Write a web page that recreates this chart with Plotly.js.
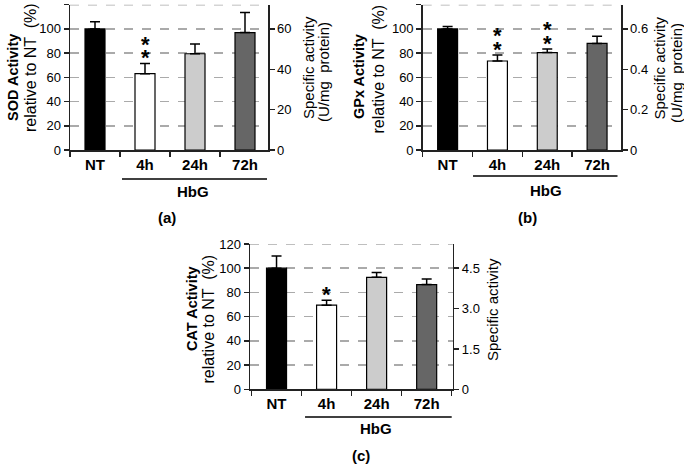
<!DOCTYPE html>
<html>
<head>
<meta charset="utf-8">
<script src="https://cdn.plot.ly/plotly-3.0.1.min.js"></script>
<style>html,body{margin:0;padding:0;background:#fff;}#chart{width:684px;height:465px;}</style>
</head>
<body>
<div id="chart"></div>
<script>
// ---- data ----
const categories = ['NT', '4h', '24h', '72h'];
const barColors = ['#000000', '#ffffff', '#cccccc', '#666666'];

const sodValues = [100, 63, 79.5, 97];
const sodErrors = [6, 8.5, 8, 16.5];
const sodStars = [0, 2, 0, 0];

const gpxValues = [100, 73.5, 80.5, 88];
const gpxErrors = [2, 5, 3, 6];
const gpxStars = [0, 2, 2, 0];

const catValues = [100, 69.5, 92.5, 86.5];
const catErrors = [10, 4, 4, 4.5];
const catStars = [0, 1, 0, 0];

const leftTicks = [0, 20, 40, 60, 80, 100, 120];
const sodRightTicks = [0, 20, 40, 60];
const gpxRightTicks = [0, 0.2, 0.4, 0.6];
const catRightTicks = [0, 1.5, 3.0, 4.5];
const catRightTickText = ['0', '1.5', '3.0', '4.5'];

const FONT = 'Liberation Sans, Arial, sans-serif';
const W = 684, H = 465;
const px = v => v / W, py = v => 1 - v / H;

function barTrace(vals, errs, xa, ya) {
  return {
    type: 'bar', x: categories, y: vals, xaxis: xa, yaxis: ya,
    width: 0.4,
    marker: {color: barColors, line: {color: '#000', width: 1.2}},
    error_y: {type: 'data', symmetric: false, array: errs, arrayminus: errs.map(() => 0),
              color: '#000', thickness: 1.5, width: 5},
    hoverinfo: 'skip', showlegend: false
  };
}

const data = [
  barTrace(sodValues, sodErrors, 'x', 'y'),
  barTrace(gpxValues, gpxErrors, 'x2', 'y3'),
  barTrace(catValues, catErrors, 'x3', 'y5'),
  {type: 'scatter', x: categories, y: [null, null, null, null], xaxis: 'x', yaxis: 'y2', showlegend: false, hoverinfo: 'skip'},
  {type: 'scatter', x: categories, y: [null, null, null, null], xaxis: 'x2', yaxis: 'y4', showlegend: false, hoverinfo: 'skip'},
  {type: 'scatter', x: categories, y: [null, null, null, null], xaxis: 'x3', yaxis: 'y6', showlegend: false, hoverinfo: 'skip'}
];

function xAxis(domain, range, anchor) {
  return {
    domain: domain, range: range, anchor: anchor, type: 'category',
    showline: true, linecolor: '#222', linewidth: 1.5,
    ticks: 'outside', ticklen: 5, tickcolor: '#222', tickwidth: 1.5,
    tickson: 'boundaries', showgrid: false, zeroline: false, automargin: false,
    tickfont: {family: FONT, size: 15, color: '#000', weight: 'bold'},
    fixedrange: true
  };
}
function leftAxis(domain, anchor) {
  return {
    domain: domain, anchor: anchor, range: [0, 120], tickvals: leftTicks,
    showline: true, linecolor: '#222', linewidth: 1.5,
    ticks: 'outside', ticklen: 5, tickcolor: '#222', tickwidth: 1.5,
    showgrid: true, gridcolor: '#aaaaaa', gridwidth: 1.5, griddash: 'dash',
    zeroline: false, automargin: false,
    tickfont: {family: FONT, size: 13, color: '#000'},
    fixedrange: true
  };
}
function rightAxis(overlay, anchor, range, ticks, ticktext) {
  const ax = {
    overlaying: overlay, anchor: anchor, side: 'right', range: range, tickvals: ticks,
    showline: true, linecolor: '#222', linewidth: 1.5,
    ticks: 'outside', ticklen: 5, tickcolor: '#222', tickwidth: 1.5,
    showgrid: false, zeroline: false, automargin: false,
    tickfont: {family: FONT, size: 13, color: '#000'},
    fixedrange: true
  };
  if (ticktext) ax.ticktext = ticktext;
  return ax;
}

const domA = [px(70), px(268)], domB = [px(422.7), px(621)], domC = [px(250), px(452.7)];
const yTop = [py(150), py(4.7)], yBot = [py(389.3), py(244)];

function starAnns(stars, vals, errs, xref, yref) {
  const out = [];
  stars.forEach((n, i) => {
    for (let k = 0; k < n; k++) {
      out.push({x: categories[i], y: vals[i] + errs[i], xref: xref, yref: yref,
        text: '*', showarrow: false, yanchor: 'bottom', yshift: -9 + 13.5 * k,
        font: {family: FONT, size: 22, color: '#000', weight: 'bold'}});
    }
  });
  return out;
}

function txt(text, x, y, size, bold, angle) {
  return {x: px(x), y: py(y), xref: 'paper', yref: 'paper', text: text, showarrow: false,
    textangle: angle || 0, xanchor: 'center', yanchor: 'middle',
    font: {family: FONT, size: size, color: '#000', weight: bold ? 'bold' : 'normal'}};
}

const annotations = [
  ...starAnns(sodStars, sodValues, sodErrors, 'x', 'y'),
  ...starAnns(gpxStars, gpxValues, gpxErrors, 'x2', 'y3'),
  ...starAnns(catStars, catValues, catErrors, 'x3', 'y5'),
  // left axis titles
  txt('SOD Activity', 13, 78, 14.5, true, -90),
  txt('relative to NT  (%)', 30, 68, 16, false, -90),
  txt('GPx Activity', 359, 77, 14.5, true, -90),
  txt('relative to NT  (%)', 378, 69.5, 16, false, -90),
  txt('CAT Activity', 192, 309, 14.5, true, -90),
  txt('relative to NT  (%)', 208, 319.5, 16, false, -90),
  // right axis titles
  txt('Specific activity', 308, 68, 15, false, -90),
  txt('(U/mg  protein)', 323.5, 72.5, 15, false, -90),
  txt('Specific activity', 659, 68.5, 15, false, -90),
  txt('(U/mg  protein)', 676.5, 73.5, 15, false, -90),
  txt('Specific activity', 492, 310, 15, false, -90),
  // group labels
  txt('HbG', 193, 191.5, 15, true),
  txt('HbG', 546, 190, 15, true),
  txt('HbG', 376, 428.5, 15, true),
  // panel labels
  txt('(a)', 167, 218, 15, true),
  txt('(b)', 527, 218, 15, true),
  txt('(c)', 361, 455.5, 15, true)
];

const gridTop = {color: '#aaaaaa', width: 1.5, dash: 'dash'};
const shapes = [
  {type: 'line', xref: 'x', yref: 'paper', x0: 0.54, x1: 3.44, y0: py(179), y1: py(179), line: {color: '#000', width: 1.5}},
  {type: 'line', xref: 'x2', yref: 'paper', x0: 0.51, x1: 3.41, y0: py(176), y1: py(176), line: {color: '#000', width: 1.5}},
  {type: 'line', xref: 'x3', yref: 'paper', x0: 0.57, x1: 3.5, y0: py(417), y1: py(417), line: {color: '#000', width: 1.5}},
  {type: 'line', xref: 'x domain', yref: 'y', x0: 0, x1: 1, y0: 120, y1: 120, line: gridTop, layer: 'below'},
  {type: 'line', xref: 'x2 domain', yref: 'y3', x0: 0, x1: 1, y0: 120, y1: 120, line: gridTop, layer: 'below'},
  {type: 'line', xref: 'x3 domain', yref: 'y5', x0: 0, x1: 1, y0: 120, y1: 120, line: gridTop, layer: 'below'}
];

const layout = {
  width: W, height: H,
  margin: {l: 0, r: 0, t: 0, b: 0, pad: 0},
  paper_bgcolor: '#fff', plot_bgcolor: '#fff',
  font: {family: FONT, color: '#000'},
  showlegend: false,
  xaxis: xAxis(domA, [-0.5, 3.46], 'y'),
  yaxis: leftAxis(yTop, 'x'),
  yaxis2: rightAxis('y', 'x', [0, 72], sodRightTicks, null),
  xaxis2: xAxis(domB, [-0.5, 3.48], 'y3'),
  yaxis3: leftAxis(yTop, 'x2'),
  yaxis4: rightAxis('y3', 'x2', [0, 0.72], gpxRightTicks, null),
  xaxis3: xAxis(domC, [-0.53, 3.52], 'y5'),
  yaxis5: leftAxis(yBot, 'x3'),
  yaxis6: rightAxis('y5', 'x3', [0, 5.4], catRightTicks, catRightTickText),
  annotations: annotations,
  shapes: shapes
};

Plotly.newPlot('chart', data, layout, {displayModeBar: false, staticPlot: true});
</script>
</body>
</html>
